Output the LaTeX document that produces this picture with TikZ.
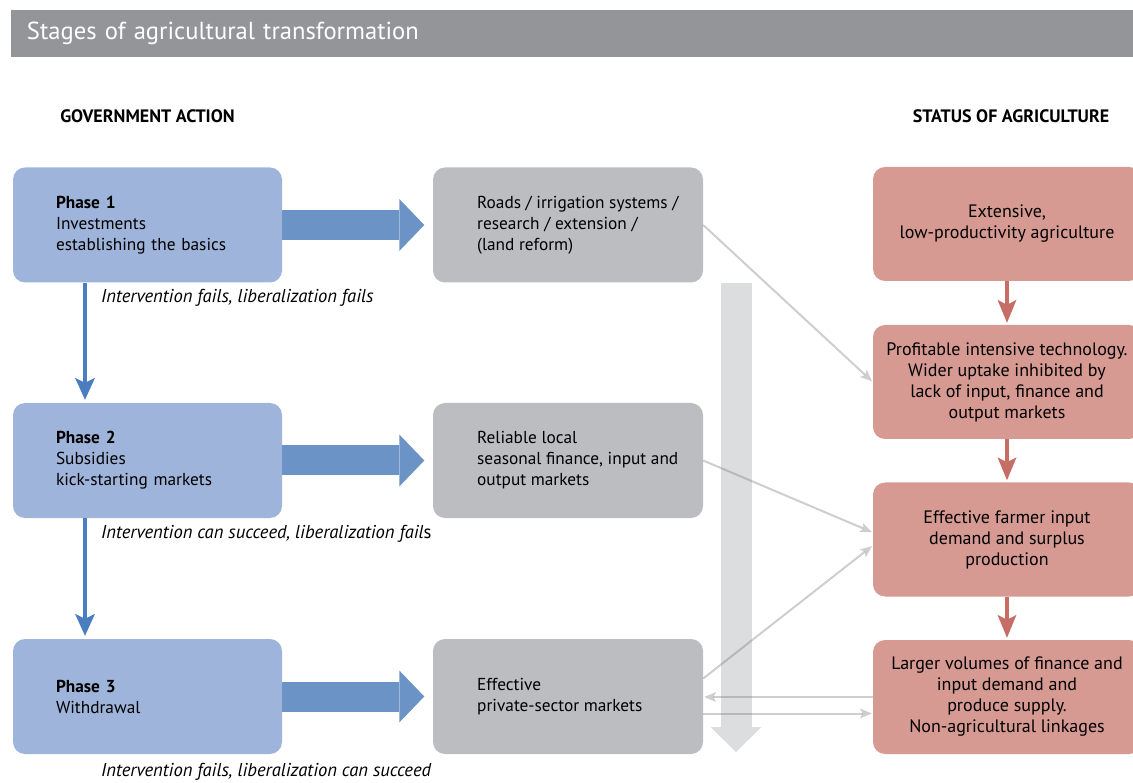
\documentclass[tikz,border=0pt]{standalone}
\usepackage{fontspec}
\setmainfont{PT Sans}
\usetikzlibrary{arrows.meta}
\definecolor{titlegray}{HTML}{939598}
\definecolor{phaseblue}{HTML}{9FB4DA}
\definecolor{blockblue}{HTML}{6B93C5}
\definecolor{stepblue}{HTML}{4A7EC0}
\definecolor{midgray}{HTML}{BCBDC0}
\definecolor{statred}{HTML}{D69A92}
\definecolor{arrowred}{HTML}{C66E66}
\definecolor{flowgray}{HTML}{DCDDDF}
\tikzset{
  titlebar/.style={fill=titlegray, text=white, minimum width=1122pt, minimum height=47pt,
    inner xsep=16pt, text width=1090pt, align=left, font=\fontsize{24.6}{28}\selectfont},
  header/.style={font=\bfseries\fontsize{18}{21}\selectfont},
  phasebox/.style={rounded corners=12pt, fill=phaseblue, minimum height=115pt,
    inner xsep=43pt, text width=183pt, align=left},
  midbox/.style={rounded corners=12pt, fill=midgray, minimum width=270pt, minimum height=115pt},
  boxtext/.style={anchor=west, align=left, inner sep=0pt},
  statbox/.style={rounded corners=12pt, fill=statred, minimum width=268pt, minimum height=114pt,
    align=center, inner sep=0pt, font=\fontsize{18}{21}\selectfont},
  outcome/.style={anchor=west, inner sep=0pt, font=\itshape\fontsize{18.6}{21}\selectfont},
  blockarrow/.style={draw=blockblue, line width=30pt, shorten >=8.5pt,
    -{Triangle[length=25pt, width=52pt, line width=0pt]}},
  phasearrow/.style={draw=stepblue, line width=4pt, shorten >=3pt,
    -{Stealth[length=22pt, width=20pt, inset=5pt, line width=0pt]}},
  statarrow/.style={draw=arrowred, line width=4pt, shorten >=2pt,
    -{Stealth[length=23pt, width=19pt, inset=5pt, line width=0pt]}},
  flowarrow/.style={draw=flowgray, line width=31pt,
    -{Triangle[length=25pt, width=51pt, line width=0pt]}},
  linkarrow/.style={draw=black!53, opacity=0.36, line width=2pt, shorten >=1pt,
    -{Stealth[length=12pt, width=10pt, inset=3pt, line width=0pt]}}
}
\begin{document}
\begin{tikzpicture}[x=1pt, y=-1pt, font=\fontsize{17.3}{21}\selectfont]
\useasboundingbox (0,0) rectangle (1133,783);
\node[titlebar] (title) at (572,33.5) {Stages of agricultural transformation};
\node[header] (govhead) at (147.5,116) {GOVERNMENT ACTION};
\node[header] (stathead) at (1011,116) {STATUS OF AGRICULTURE};
% government action
\node[phasebox] (phase1) at (147.5,225) {\textbf{Phase 1}\\Investments\\establishing the basics};
\node[phasebox] (phase2) at (147.5,460.5) {\textbf{Phase 2}\\Subsidies\\kick-starting markets};
\node[phasebox] (phase3) at (147.5,696.5) {\textbf{Phase 3}\\Withdrawal};
\node[outcome] (fail1) at (101,298) {Intervention fails, liberalization fails};
\node[outcome] (fail2) at (101,534) {Intervention can succeed, liberalization fail\upshape s};
\node[outcome] (fail3) at (101,772) {Intervention fails, liberalization can succeed};
% what the phases give
\node[midbox] (roads) at (568,225) {};
\node[boxtext] (roadstxt) at (477,225) {Roads / irrigation systems /\\research / extension /\\(land reform)};
\node[midbox] (finance) at (568,460.5) {};
\node[boxtext] (financetxt) at (477,460.5) {Reliable local\\seasonal finance, input and\\output markets};
\node[midbox] (private) at (568,696.5) {};
\node[boxtext] (privatetxt) at (477,696.5) {Effective\\private-sector markets};
% status of agriculture
\node[statbox] (extensive) at (1007,224) {Extensive,\\low-productivity agriculture};
\node[statbox] (profit) at (1007,382) {Profitable intensive technology.\\Wider uptake inhibited by\\lack of input, finance and\\output markets};
\node[statbox] (surplus) at (1007,539.5) {Effective farmer input\\demand and surplus\\production};
\node[statbox] (volumes) at (1007,697) {Larger volumes of finance and\\input demand and\\produce supply.\\Non-agricultural linkages};
% time arrow
\coordinate (flowtop) at (736,283);
\coordinate (flowend) at (736,752);
\draw[flowarrow] (flowtop) -- (flowend);
% arrows
\draw[blockarrow] (phase1) -- (roads);
\draw[blockarrow] (phase2) -- (finance);
\draw[blockarrow] (phase3) -- (private);
\draw[phasearrow] ([xshift=-62.5pt]phase1.south) -- ([xshift=-62.5pt]phase2.north);
\draw[phasearrow] ([xshift=-62.5pt]phase2.south) -- ([xshift=-62.5pt]phase3.north);
\draw[statarrow] (extensive) -- (profit);
\draw[statarrow] (profit) -- (surplus);
\draw[statarrow] (surplus) -- (volumes);
\draw[linkarrow] (roads.east) -- (profit.west);
\draw[linkarrow] (finance.east) -- ([yshift=7pt]surplus.west);
\draw[linkarrow] ([yshift=18pt]private.east) -- ([yshift=-6pt]surplus.west);
\draw[linkarrow] (volumes.west) -- (volumes.west -| private.east);
\draw[linkarrow] ([yshift=-17pt]private.east) -- ([yshift=-17pt]private.east -| volumes.west);
\end{tikzpicture}
\end{document}
